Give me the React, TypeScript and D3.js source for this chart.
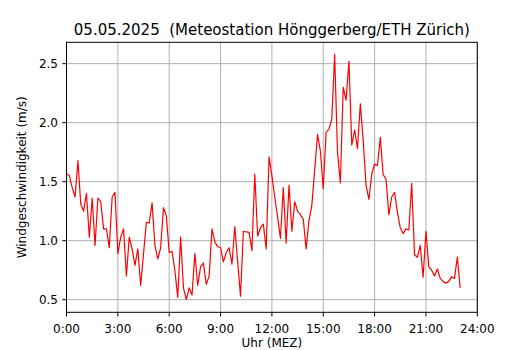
import * as d3 from 'd3';

// 10-Minuten-Mittel der Windgeschwindigkeit (m/s), ab 0:00 (6 Werte pro Stunde)
const windSpeed: number[] = [
  1.57, 1.55, 1.45, 1.37, 1.68, 1.31, // 0h
  1.25, 1.40, 1.03, 1.36, 0.96, 1.36, // 1h
  1.33, 1.10, 1.10, 0.94, 1.37, 1.41, // 2h
  0.89, 1.03, 1.10, 0.70, 1.03, 0.93, // 3h
  0.79, 0.93, 0.62, 0.89, 1.155, 1.15, // 4h
  1.32, 0.96, 0.845, 0.94, 1.28, 1.21, // 5h
  0.90, 0.91, 0.745, 0.52, 1.03, 0.60, // 6h
  0.50, 0.60, 0.54, 0.89, 0.62, 0.78, // 7h
  0.81, 0.63, 0.70, 1.10, 0.99, 0.95, // 8h
  0.94, 0.82, 0.90, 0.94, 0.80, 1.12, // 9h
  0.82, 0.53, 1.08, 1.075, 1.07, 0.915, // 10h
  1.565, 1.04, 1.11, 1.14, 0.93, 1.71, // 11h
  1.55, 1.37, 1.20, 1.02, 1.45, 0.98, // 12h
  1.47, 1.08, 1.33, 1.25, 1.22, 1.18, // 13h
  0.93, 1.17, 1.30, 1.60, 1.90, 1.76, // 14h
  1.44, 1.92, 1.945, 2.03, 2.58, 1.75, // 15h
  1.49, 2.30, 2.19, 2.52, 1.81, 1.94, // 16h
  1.78, 2.16, 1.85, 1.47, 1.35, 1.565, // 17h
  1.65, 1.635, 1.875, 1.56, 1.52, 1.22, // 18h
  1.37, 1.41, 1.24, 1.11, 1.06, 1.10, // 19h
  1.09, 1.485, 0.88, 0.86, 0.96, 0.69, // 20h
  1.08, 0.78, 0.75, 0.70, 0.76, 0.68, // 21h
  0.655, 0.64, 0.655, 0.695, 0.68, 0.86, // 22h
  0.60, // 23:00
];

const xTicks = [0, 3, 6, 9, 12, 15, 18, 21, 24];
const yTicks = [0.5, 1.0, 1.5, 2.0, 2.5];

const title = '05.05.2025  (Meteostation Hönggerberg/ETH Zürich)';
const xLabel = 'Uhr (MEZ)';
const yLabel = 'Windgeschwindigkeit (m/s)';

const W = 530;
const H = 350;
const margin = { left: 66.5, right: 52.7, top: 42.3, bottom: 37.7 };

export default function App() {
  const x = d3.scaleLinear().domain([0, 24]).range([margin.left, W - margin.right]);
  const y = d3.scaleLinear().domain([0.393, 2.681]).range([H - margin.bottom, margin.top]);

  const line = d3
    .line<number>()
    .x((_, i) => x(i / 6))
    .y((d) => y(d));

  const font = 'DejaVu Sans, sans-serif';
  const x0 = x.range()[0];
  const x1 = x.range()[1];
  const y0 = y.range()[0];
  const y1 = y.range()[1];

  return (
    <svg
      width={W}
      height={H}
      style={{ position: 'absolute', left: 0, top: 0, background: '#fff' }}
      fontFamily={font}
    >
      <rect width={W} height={H} fill="#fff" />

      {/* Gitter */}
      {xTicks.map((t) => (
        <line key={'gx' + t} x1={x(t)} x2={x(t)} y1={y0} y2={y1} stroke="#b0b0b0" strokeWidth={1} />
      ))}
      {yTicks.map((t) => (
        <line key={'gy' + t} x1={x0} x2={x1} y1={y(t)} y2={y(t)} stroke="#b0b0b0" strokeWidth={1} />
      ))}

      <defs>
        <clipPath id="plot">
          <rect x={x0} y={y1} width={x1 - x0} height={y0 - y1} />
        </clipPath>
      </defs>
      <path
        d={line(windSpeed) ?? ''}
        fill="none"
        stroke="#ff0000"
        strokeWidth={1.2}
        strokeLinejoin="round"
        clipPath="url(#plot)"
      />

      {/* Rahmen */}
      <rect x={x0} y={y1} width={x1 - x0} height={y0 - y1} fill="none" stroke="#000" strokeWidth={1} />

      {/* x-Achse */}
      {xTicks.map((t) => (
        <g key={'tx' + t}>
          <line x1={x(t)} x2={x(t)} y1={y0} y2={y0 + 4.2} stroke="#000" strokeWidth={1} />
          <text x={x(t)} y={y0 + 20.5} fontSize={12} textAnchor="middle" fill="#000">
            {`${t}:00`}
          </text>
        </g>
      ))}
      {/* y-Achse */}
      {yTicks.map((t) => (
        <g key={'ty' + t}>
          <line x1={x0 - 4.2} x2={x0} y1={y(t)} y2={y(t)} stroke="#000" strokeWidth={1} />
          <text x={x0 - 8.5} y={y(t) + 4.3} fontSize={12} textAnchor="end" fill="#000">
            {t.toFixed(1)}
          </text>
        </g>
      ))}

      <text x={(x0 + x1) / 2} y={347} fontSize={12} textAnchor="middle" fill="#000">
        {xLabel}
      </text>
      <text
        transform={`translate(26, ${(y0 + y1) / 2}) rotate(-90)`}
        fontSize={12}
        textAnchor="middle"
        fill="#000"
      >
        {yLabel}
      </text>
      <text
        x={(x0 + x1) / 2}
        y={35}
        fontSize={15}
        textAnchor="middle"
        fill="#000"
        style={{ whiteSpace: 'pre' }}
      >
        {title}
      </text>
    </svg>
  );
}
